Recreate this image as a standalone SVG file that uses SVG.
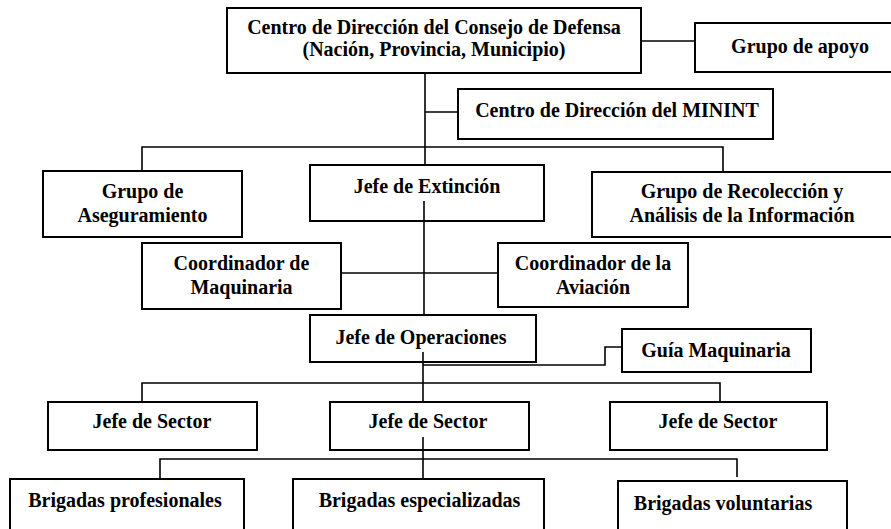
<svg xmlns="http://www.w3.org/2000/svg" width="891" height="529" viewBox="0 0 891 529">
<style>
.box{fill:#fff;stroke:#000;stroke-width:2}
.ln{fill:none;stroke:#000;stroke-width:1.6}
text{font-family:"Liberation Serif","Times New Roman",serif;font-weight:bold;font-size:20px;fill:#000;text-anchor:middle}
</style>
<rect width="891" height="529" fill="#fff"/>
<g id="connectors">
<path class="ln" d="M641,41H695"/>
<path class="ln" d="M425,73V165"/>
<path class="ln" d="M425,112H458"/>
<path class="ln" d="M142,171V147H723V172"/>
<path class="ln" d="M341,273H498"/>
<path class="ln" d="M622,347H605V365H423"/>
<path class="ln" d="M142,402V383H720V402"/>
<path class="ln" d="M160,479V459H737V477"/>
</g>
<g id="n-consejo"><rect class="box" x="227" y="8" width="414" height="65"/><text x="434" y="34">Centro de Dirección del Consejo de Defensa</text><text x="434" y="56">(Nación, Provincia, Municipio)</text></g>
<g id="n-apoyo"><rect class="box" x="695" y="23" width="210" height="49"/><text x="800" y="53">Grupo de apoyo</text></g>
<g id="n-minint"><rect class="box" x="458" y="89" width="315" height="50"/><text x="617" y="117">Centro de Dirección del MININT</text></g>
<g id="n-aseguramiento"><rect class="box" x="43" y="171" width="199" height="66"/><text x="142.5" y="198">Grupo de</text><text x="142.5" y="222">Aseguramiento</text></g>
<g id="n-extincion"><rect class="box" x="310" y="165" width="234" height="56"/><text x="427" y="193">Jefe de Extinción</text></g>
<g id="n-recoleccion"><rect class="box" x="592" y="172" width="300" height="65"/><text x="742" y="198">Grupo de Recolección y</text><text x="742" y="222">Análisis de la Información</text></g>
<g id="connectors-2"><path class="ln" d="M424,201V315"/><path class="ln" d="M423,352V402"/><path class="ln" d="M423,437V479"/></g>
<g id="n-coord-maq"><rect class="box" x="142" y="243" width="199" height="66"/><text x="241.5" y="270">Coordinador de</text><text x="241.5" y="294">Maquinaria</text></g>
<g id="n-coord-av"><rect class="box" x="498" y="243" width="190" height="64"/><text x="593" y="270">Coordinador de la</text><text x="593" y="294">Aviación</text></g>
<g id="n-operaciones"><rect class="box" x="310" y="315" width="226" height="47" fill-opacity="0"/><text x="421" y="344">Jefe de Operaciones</text></g>
<g id="n-guia"><rect class="box" x="622" y="329" width="189" height="43"/><text x="716" y="357">Guía Maquinaria</text></g>
<g id="n-sector-1"><rect class="box" x="48" y="402" width="209" height="48"/><text x="152" y="428">Jefe de Sector</text></g>
<g id="n-sector-2"><rect class="box" x="330" y="402" width="199" height="48" fill-opacity="0"/><text x="428" y="428">Jefe de Sector</text></g>
<g id="n-sector-3"><rect class="box" x="610" y="402" width="217" height="48"/><text x="718" y="428">Jefe de Sector</text></g>
<g id="n-brig-prof"><rect class="box" x="10" y="479" width="234" height="60"/><text x="125" y="507">Brigadas profesionales</text></g>
<g id="n-brig-esp"><rect class="box" x="293" y="479" width="251" height="60"/><text x="419.5" y="507">Brigadas especializadas</text></g>
<g id="n-brig-vol"><rect class="box" x="618" y="481" width="229" height="60"/><text x="723" y="510">Brigadas voluntarias</text></g>
</svg>
